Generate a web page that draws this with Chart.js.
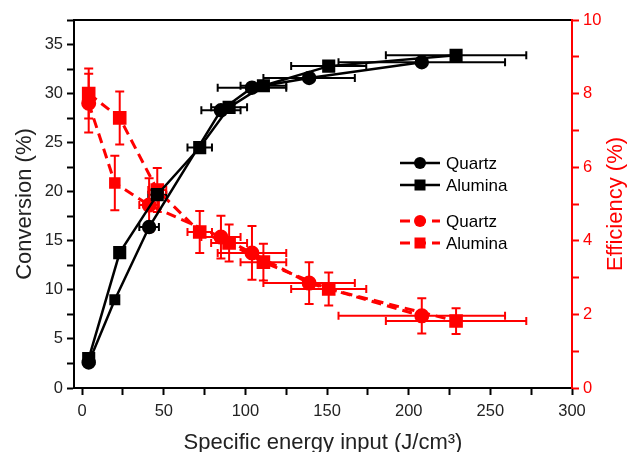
<!DOCTYPE html>
<html lang="en">
<head>
<meta charset="UTF-8">
<title>Conversion and efficiency vs specific energy input</title>
<script src="https://cdn.jsdelivr.net/npm/chart.js"></script>
<style>
  body { margin: 0; background: #fff; }
</style>
</head>
<body>
<canvas id="myChart" width="628" height="452"></canvas>
<script>
    // values
    const quartzSEI = [4, 20, 41, 85, 104, 139, 208]
    const quartzSEIErr = [0, 0, 6, 12, 21, 28, 51]
    const quartzConv = [2.6, 9.0, 16.4, 28.3, 30.6, 31.6, 33.2]
    const quartzEff = [7.74, 5.57, 4.97, 4.1, 3.67, 2.85, 1.96]
    const quartzEffErr = [0.8, 0.74, 0.73, 0.58, 0.73, 0.57, 0.48]

    const aluminaSEI = [4, 23, 46, 72, 90, 111, 151, 229]
    const aluminaSEIErr = [0, 0, 5.5, 7.5, 11, 14, 23, 43]
    const aluminaConv = [3.0, 13.8, 19.7, 24.5, 28.6, 30.8, 32.8, 33.9]
    const aluminaEff = [8.0, 7.34, 5.38, 4.24, 3.94, 3.42, 2.69, 1.82]
    const aluminaEffErr = [0.68, 0.72, 0.6, 0.57, 0.5, 0.5, 0.45, 0.35]

    const xTicks = [0, 25, 50, 75, 100, 125, 150, 175, 200, 225, 250, 275, 300]
    const convTicks = [0, 2.5, 5, 7.5, 10, 12.5, 15, 17.5, 20, 22.5, 25, 27.5, 30, 32.5, 35, 37.5]
    const effTicks = [0, 1, 2, 3, 4, 5, 6, 7, 8, 9, 10]

    const RED = '#ff0000'
    const FONT = '"Liberation Sans", Arial, sans-serif'

    const pts = (xs, ys) => xs.map((x, i) => ({ x: x, y: ys[i] }))
    // the second quartz point is drawn with a square in the original
    const quartzStyles = quartzSEI.map((x, i) => i === 1 ? 'rect' : 'circle')

    const errorBars = {
        id: 'errorBars',
        beforeDatasetsDraw(chart) {
            const ctx = chart.ctx
            const xs = chart.scales.x
            chart.data.datasets.forEach(ds => {
                const ys = chart.scales[ds.yAxisID]
                ctx.save()
                ctx.strokeStyle = ds.borderColor
                ctx.lineWidth = 2
                ctx.setLineDash([])
                ds.data.forEach((p, j) => {
                    const px = xs.getPixelForValue(p.x)
                    const py = ys.getPixelForValue(p.y)
                    const ex = ds.errX ? ds.errX[j] : 0
                    const ey = ds.errY ? ds.errY[j] : 0
                    ctx.beginPath()
                    if (ex) {
                        const x1 = xs.getPixelForValue(p.x - ex)
                        const x2 = xs.getPixelForValue(p.x + ex)
                        ctx.moveTo(x1, py); ctx.lineTo(x2, py)
                        ctx.moveTo(x1, py - 4); ctx.lineTo(x1, py + 4)
                        ctx.moveTo(x2, py - 4); ctx.lineTo(x2, py + 4)
                    }
                    if (ey) {
                        const y1 = ys.getPixelForValue(p.y - ey)
                        const y2 = ys.getPixelForValue(p.y + ey)
                        ctx.moveTo(px, y1); ctx.lineTo(px, y2)
                        ctx.moveTo(px - 4.5, y1); ctx.lineTo(px + 4.5, y1)
                        ctx.moveTo(px - 4.5, y2); ctx.lineTo(px + 4.5, y2)
                    }
                    ctx.stroke()
                })
                ctx.restore()
            })
        }
    }

    const extras = {
        id: 'extras',
        afterDraw(chart) {
            const ctx = chart.ctx
            const area = chart.chartArea
            ctx.save()
            // top frame line
            ctx.strokeStyle = '#000'
            ctx.lineWidth = 2
            ctx.beginPath()
            ctx.moveTo(area.left, area.top)
            ctx.lineTo(area.right - 1, area.top)
            ctx.stroke()

            // right axis title, reading bottom to top
            ctx.fillStyle = RED
            ctx.font = '22px ' + FONT
            ctx.textAlign = 'center'
            ctx.textBaseline = 'middle'
            ctx.translate(616, (area.top + area.bottom) / 2)
            ctx.rotate(-Math.PI / 2)
            ctx.fillText('Efficiency (%)', 0, 0)
            ctx.restore()

            // legend inside the plot
            const rows = [163, 185, 221, 243]
            chart.data.datasets.forEach((ds, i) => {
                const y = rows[i]
                ctx.save()
                ctx.strokeStyle = ds.borderColor
                ctx.lineWidth = ds.borderWidth
                ctx.setLineDash(ds.borderDash || [])
                ctx.beginPath()
                ctx.moveTo(400, y); ctx.lineTo(440, y)
                ctx.stroke()
                ctx.setLineDash([])
                ctx.fillStyle = ds.borderColor
                if (ds.legendStyle === 'rect') {
                    ctx.fillRect(414.5, y - 5.5, 11, 11)
                } else {
                    ctx.beginPath()
                    ctx.arc(420, y, 6, 0, Math.PI * 2)
                    ctx.fill()
                }
                ctx.fillStyle = '#000'
                ctx.font = '17px ' + FONT
                ctx.textAlign = 'left'
                ctx.textBaseline = 'middle'
                ctx.fillText(ds.label, 446, y + 1)
                ctx.restore()
            })
        }
    }

    const data = {
        datasets: [{
            label: 'Quartz',
            data: pts(quartzSEI, quartzConv),
            errX: quartzSEIErr,
            yAxisID: 'y',
            borderColor: '#000',
            backgroundColor: '#000',
            borderWidth: 2.5,
            pointStyle: quartzStyles,
            pointRadius: 6,
            legendStyle: 'circle'
        },
        {
            label: 'Alumina',
            data: pts(aluminaSEI, aluminaConv),
            errX: aluminaSEIErr,
            yAxisID: 'y',
            borderColor: '#000',
            backgroundColor: '#000',
            borderWidth: 2.5,
            pointStyle: 'rect',
            pointRadius: 7.5,
            legendStyle: 'rect'
        },
        {
            label: 'Quartz',
            data: pts(quartzSEI, quartzEff),
            errX: quartzSEIErr,
            errY: quartzEffErr,
            yAxisID: 'y2',
            borderColor: RED,
            backgroundColor: RED,
            borderWidth: 3,
            borderDash: [10, 6],
            pointStyle: quartzStyles,
            pointRadius: 6,
            legendStyle: 'circle'
        },
        {
            label: 'Alumina',
            data: pts(aluminaSEI, aluminaEff),
            errX: aluminaSEIErr,
            errY: aluminaEffErr,
            yAxisID: 'y2',
            borderColor: RED,
            backgroundColor: RED,
            borderWidth: 3,
            borderDash: [10, 6],
            pointStyle: 'rect',
            pointRadius: 7.5,
            legendStyle: 'rect'
        }]
    }

    const config = {
        type: 'line',
        data: data,
        plugins: [errorBars, extras],
        options: {
            responsive: false,
            animation: false,
            layout: { padding: { top: 20 } },
            plugins: {
                legend: { display: false },
                tooltip: { enabled: false }
            },
            elements: { line: { tension: 0 } },
            scales: {
                x: {
                    type: 'linear',
                    min: -5,
                    max: 300,
                    afterBuildTicks: s => { s.ticks = xTicks.map(v => ({ value: v })) },
                    afterFit: s => { s.height = 64 },
                    border: { color: '#000', width: 2 },
                    grid: { drawOnChartArea: false, tickLength: 7, tickColor: '#000', tickWidth: 2 },
                    ticks: {
                        color: '#222',
                        padding: 7,
                        font: { family: FONT, size: 16.5 },
                        callback: v => v % 50 === 0 ? v : ''
                    },
                    title: {
                        display: true,
                        text: 'Specific energy input (J/cm³)',
                        color: '#222',
                        font: { family: FONT, size: 22, lineHeight: 0.8 },
                        padding: 0
                    }
                },
                y: {
                    position: 'left',
                    min: 0,
                    max: 37.5,
                    afterBuildTicks: s => { s.ticks = convTicks.map(v => ({ value: v })) },
                    afterFit: s => { s.width = 74 },
                    border: { color: '#000', width: 2 },
                    grid: { drawOnChartArea: false, tickLength: 7, tickColor: '#000', tickWidth: 2 },
                    ticks: {
                        color: '#222',
                        padding: 4,
                        font: { family: FONT, size: 16.5 },
                        callback: v => v % 5 === 0 ? v : ''
                    },
                    title: {
                        display: true,
                        text: 'Conversion (%)',
                        color: '#222',
                        font: { family: FONT, size: 22, lineHeight: 1 },
                        padding: { top: 14 }
                    }
                },
                y2: {
                    position: 'right',
                    min: 0,
                    max: 10,
                    afterBuildTicks: s => { s.ticks = effTicks.map(v => ({ value: v })) },
                    afterFit: s => { s.width = 56 },
                    border: { color: RED, width: 2 },
                    grid: { drawOnChartArea: false, tickLength: 7, tickColor: RED, tickWidth: 2 },
                    ticks: {
                        color: RED,
                        padding: 4,
                        font: { family: FONT, size: 16.5 },
                        callback: v => v % 2 === 0 ? v : ''
                    }
                }
            }
        }
    }

    window.myChart = new Chart(document.getElementById('myChart'), config)
</script>
</body>
</html>
